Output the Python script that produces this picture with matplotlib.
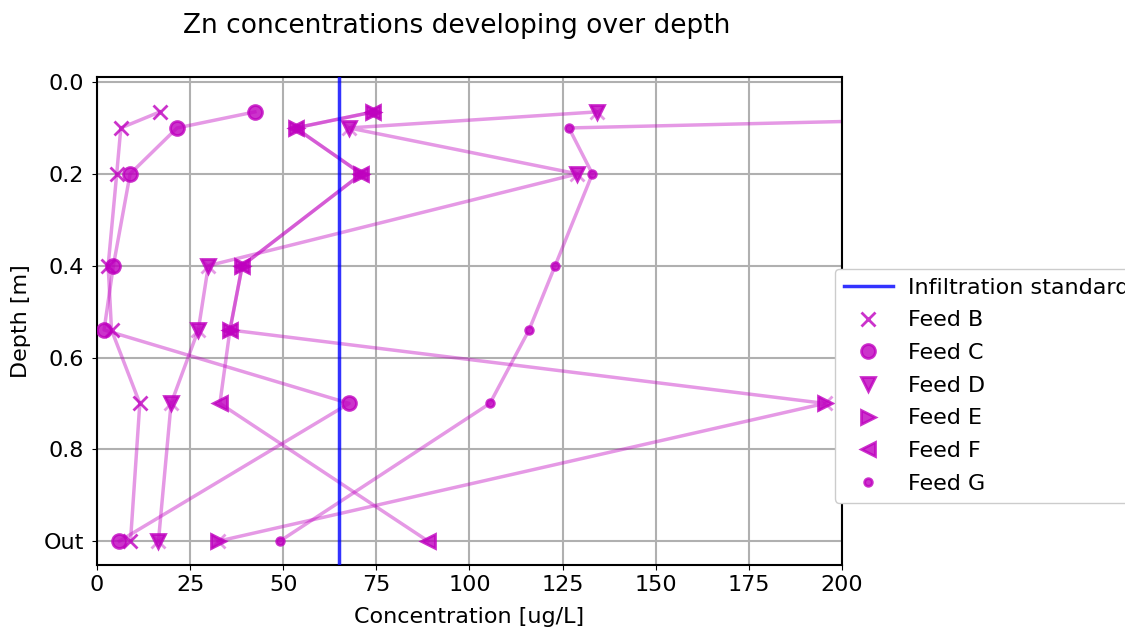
import matplotlib
matplotlib.use("Agg")
import matplotlib.pyplot as plt


DEPTHS = [0.065, 0.1, 0.2, 0.4, 0.54, 0.7, 1.0]
DEPTH_TICKS = [0.0, 0.2, 0.4, 0.6, 0.8, 1.0]
DEPTH_LABELS = ["0.0", "0.2", "0.4", "0.6", "0.8", "Out"]

FEEDS = ["Feed B", "Feed C", "Feed D", "Feed E", "Feed F", "Feed G"]
MARKERS = ["x", "o", "v", ">", "<", "."]

# Zn [ug/L] per feed, ordered like DEPTHS
FEED_B = [16.9, 6.4, 5.3, 3.0, 3.9, 11.5, 9.0]
FEED_C = [42.4, 21.5, 8.9, 4.4, 1.9, 67.7, 6.0]
FEED_D = [134.2, 67.7, 129.0, 29.9, 27.2, 19.9, 16.5]
FEED_E = [74.2, 53.3, 71.0, 39.0, 35.7, 195.4, 32.6]
FEED_F = [74.2, 53.3, 71.0, 39.0, 35.7, 33.0, 88.9]
FEED_G = [310.0, 126.7, 133.0, 123.0, 116.0, 105.5, 49.1]

INFILTRATION_STANDARD = 65


def main():
    plt.rcParams["font.family"] = "DejaVu Sans"
    plt.rcParams["font.size"] = 16

    fig = plt.figure(figsize=(11.25, 6.28), dpi=100)
    ax = fig.add_axes([0.0862, 0.1003, 0.6622, 0.7771])

    series = [FEED_B, FEED_C, FEED_D, FEED_E, FEED_F, FEED_G]
    # D and E were logged with point markers on the trend line as well
    line_markers = [None, None, "x", "x", None, None]

    handles = []
    std = ax.axvline(INFILTRATION_STANDARD, color="blue", alpha=0.8, lw=2.5,
                     zorder=4, label="Infiltration standard")
    handles.append(std)

    for name, conc, mk, lmk in zip(FEEDS, series, MARKERS, line_markers):
        ax.plot(conc, DEPTHS, color="m", alpha=0.4, lw=2.5, marker=lmk,
                ms=10, mew=2, zorder=2)
        h, = ax.plot(conc, DEPTHS, ls="none", marker=mk, color="m", alpha=0.8,
                     ms=10 if mk != "." else 11, mew=2, zorder=3, label=name)
        handles.append(h)

    ax.set_xlim(0, 200)
    ax.set_ylim(1.052, -0.011)
    ax.set_xticks([0, 25, 50, 75, 100, 125, 150, 175, 200])
    ax.set_yticks(DEPTH_TICKS)
    ax.set_yticklabels(DEPTH_LABELS)
    ax.tick_params(axis="y", pad=6)
    ax.grid(True, color="#b0b0b0", lw=1.5, zorder=0)
    ax.set_axisbelow(True)
    for side in ax.spines.values():
        side.set_linewidth(1.5)

    ax.set_xlabel("Concentration [ug/L]", labelpad=9)
    ax.set_ylabel("Depth [m]", labelpad=9)
    fig.suptitle("Zn concentrations developing over depth", x=0.406, y=0.98,
                 va="top", fontsize=19)

    ax.legend(handles=handles, loc="upper left",
              bbox_to_anchor=(0.742, 0.572), bbox_transform=fig.transFigure,
              borderaxespad=0, labelspacing=0.57, handlelength=2.2,
              handletextpad=0.7, framealpha=1.0, edgecolor="#cccccc")

    fig.savefig("out.png", dpi=100)
    plt.close(fig)


if __name__ == "__main__":
    main()
